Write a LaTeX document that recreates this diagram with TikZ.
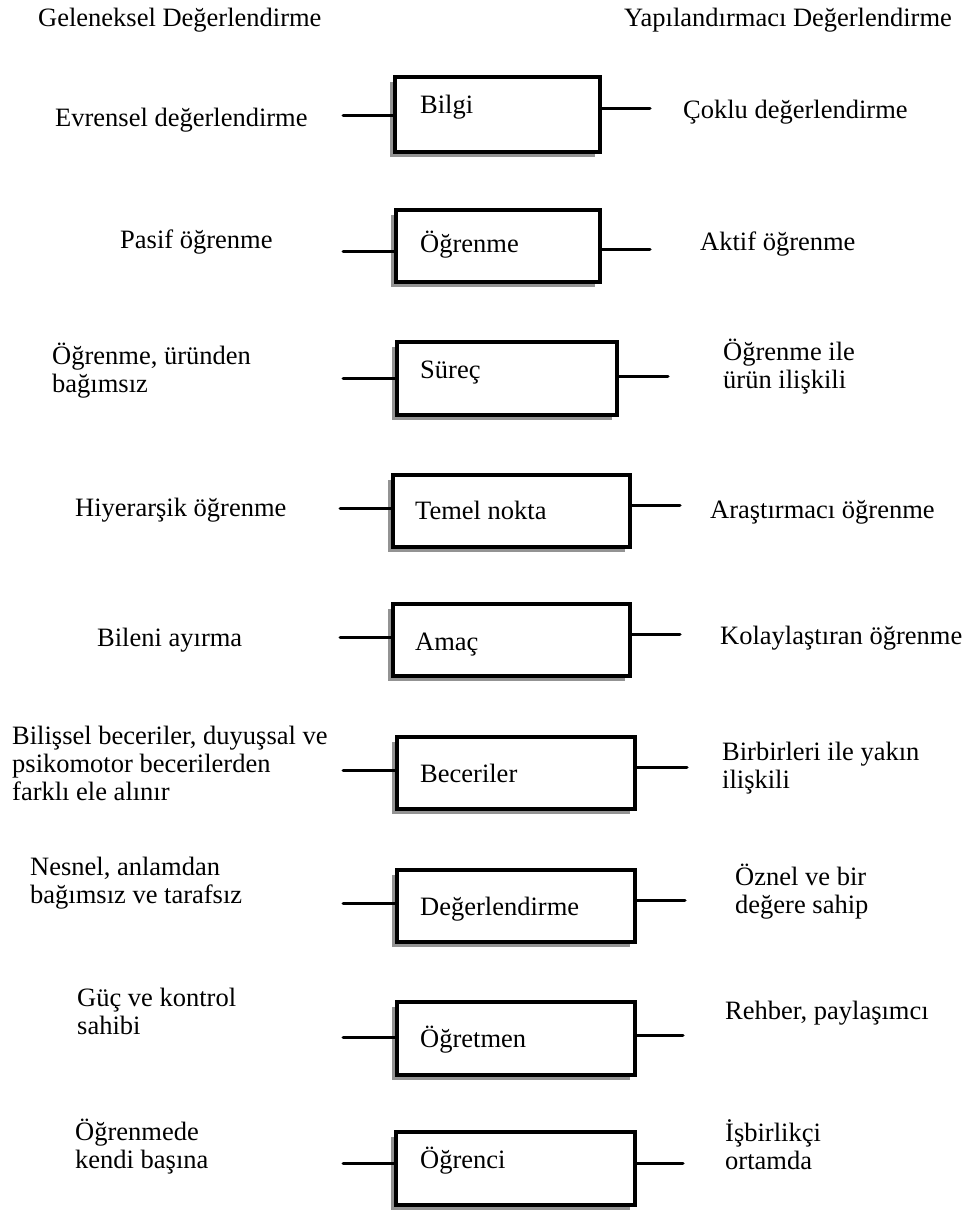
\documentclass[tikz,border=0pt]{standalone}
\usepackage{fontspec}
\setmainfont{Liberation Serif}
\usetikzlibrary{shadows}
\begin{document}
\begin{tikzpicture}[x=1pt,y=-1pt,
  every node/.style={inner sep=0pt, font=\fontsize{26.5}{27.7}\selectfont},
  box/.style={draw=black, line width=4pt, fill=white, anchor=north west,
    drop shadow={shadow xshift=-5pt, shadow yshift=-5pt, fill=gray!85, opacity=1}},
  conn/.style={line width=3pt, line cap=round},
  lbl/.style={anchor=base west, align=left},
  intext/.style={anchor=base west}]
\useasboundingbox (0,0) rectangle (973,1211);
% headers
\node[lbl] (hl) at (38,26) {Geleneksel Değerlendirme};
\node[lbl] (hr) at (624,26) {Yapılandırmacı Değerlendirme};
% boxes
\node[box, minimum width=205pt, minimum height=75pt] (b1) at (393,75) {};
\node[box, minimum width=204pt, minimum height=72pt] (b2) at (394,208) {};
\node[box, minimum width=220pt, minimum height=73pt] (b3) at (395,340) {};
\node[box, minimum width=237pt, minimum height=72pt] (b4) at (391,473) {};
\node[box, minimum width=237pt, minimum height=72pt] (b5) at (391,602) {};
\node[box, minimum width=238pt, minimum height=72pt] (b6) at (395,735) {};
\node[box, minimum width=238pt, minimum height=72pt] (b7) at (395,868) {};
\node[box, minimum width=238pt, minimum height=73pt] (b8) at (395,1000) {};
\node[box, minimum width=239pt, minimum height=73pt] (b9) at (394,1130) {};
% box texts
\node[intext] (t1) at (420,113) {Bilgi};
\node[intext] (t2) at (420,252) {Öğrenme};
\node[intext] (t3) at (420,378) {Süreç};
\node[intext] (t4) at (415,519) {Temel nokta};
\node[intext] (t5) at (415,650) {Amaç};
\node[intext] (t6) at (420,782) {Beceriler};
\node[intext] (t7) at (420,915) {Değerlendirme};
\node[intext] (t8) at (420,1047) {Öğretmen};
\node[intext] (t9) at (420,1168) {Öğrenci};
% left labels (y = baseline of last line)
\node[lbl] (l1) at (55,126) {Evrensel değerlendirme};
\node[lbl] (l2) at (120,248) {Pasif öğrenme};
\node[lbl] (l3) at (52,392) {Öğrenme, üründen\\bağımsız};
\node[lbl] (l4) at (75,516) {Hiyerarşik öğrenme};
\node[lbl] (l5) at (97,646) {Bileni ayırma};
\node[lbl] (l6) at (12,800) {Bilişsel beceriler, duyuşsal ve\\psikomotor becerilerden\\farklı ele alınır};
\node[lbl] (l7) at (30,903) {Nesnel, anlamdan\\bağımsız ve tarafsız};
\node[lbl] (l8) at (77,1034) {Güç ve kontrol\\sahibi};
\node[lbl] (l9) at (75,1168) {Öğrenmede\\kendi başına};
% right labels
\node[lbl] (r1) at (683,118) {Çoklu değerlendirme};
\node[lbl] (r2) at (700,250) {Aktif öğrenme};
\node[lbl] (r3) at (723,388) {Öğrenme ile\\ürün ilişkili};
\node[lbl] (r4) at (710,518) {Araştırmacı öğrenme};
\node[lbl] (r5) at (720,644) {Kolaylaştıran öğrenme};
\node[lbl] (r6) at (722,788) {Birbirleri ile yakın\\ilişkili};
\node[lbl] (r7) at (735,913) {Öznel ve bir\\değere sahip};
\node[lbl] (r8) at (725,1019) {Rehber, paylaşımcı};
\node[lbl] (r9) at (725,1169) {İşbirlikçi\\ortamda};
% connector free ends
\coordinate (cl1) at (343,115); \coordinate (cr1) at (650,108);
\coordinate (cl2) at (343,251); \coordinate (cr2) at (650,249);
\coordinate (cl3) at (343,378); \coordinate (cr3) at (668,376);
\coordinate (cl4) at (340,508); \coordinate (cr4) at (680,505);
\coordinate (cl5) at (340,637); \coordinate (cr5) at (680,634);
\coordinate (cl6) at (343,770); \coordinate (cr6) at (687,767);
\coordinate (cl7) at (343,903); \coordinate (cr7) at (685,900);
\coordinate (cl8) at (343,1037); \coordinate (cr8) at (683,1035);
\coordinate (cl9) at (343,1163); \coordinate (cr9) at (683,1163);
\foreach \i in {1,...,9}{
  \draw[conn] (cl\i) -- (cl\i -| b\i.west);
  \draw[conn] (b\i.east |- cr\i) -- (cr\i);
}
\end{tikzpicture}
\end{document}
